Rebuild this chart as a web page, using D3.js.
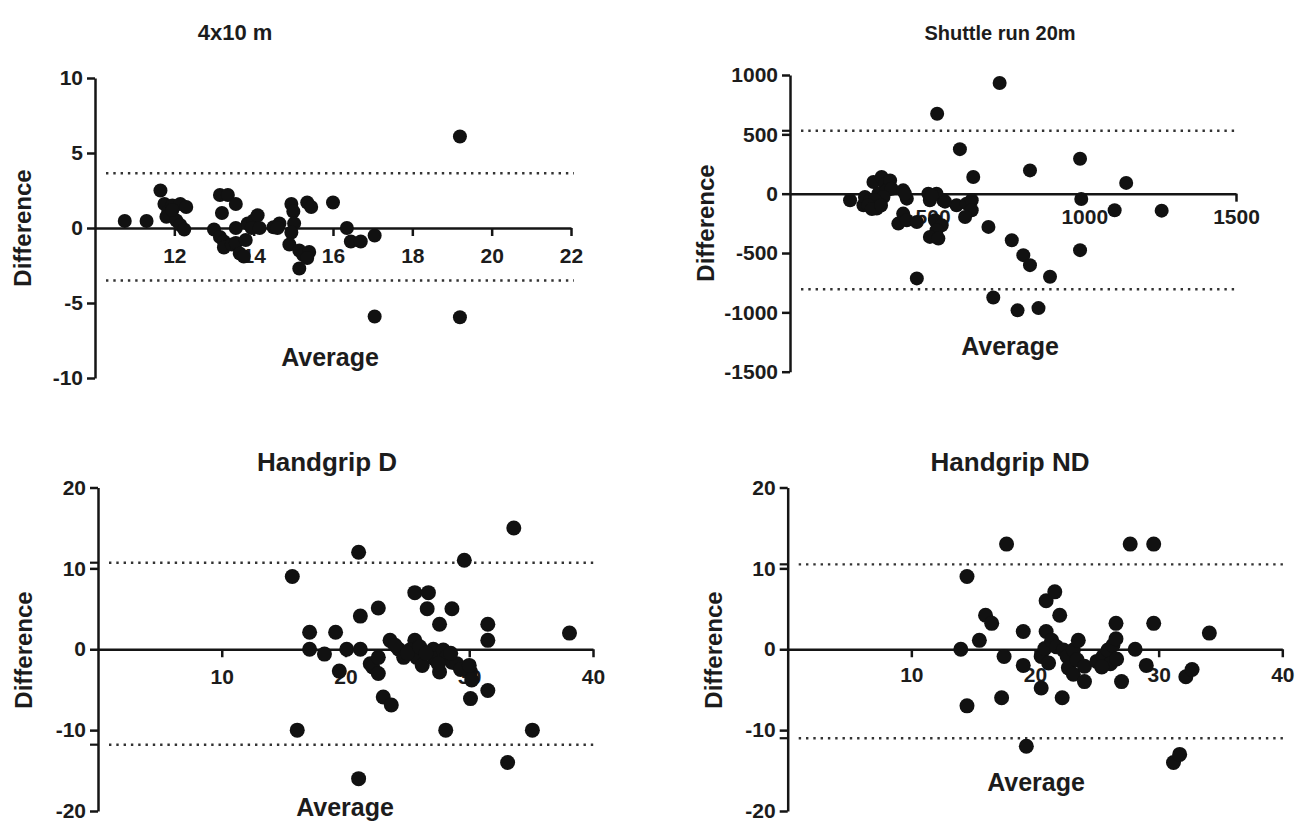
<!DOCTYPE html>
<html>
<head>
<meta charset="utf-8">
<script src="https://cdn.jsdelivr.net/npm/d3@7"></script>
<style>
  body { margin: 0; background: #fff; }
  svg { display: block; }
  text { font-family: "Liberation Sans", Arial, sans-serif; font-weight: bold; fill: #1c1c1c; }
  .axis path, .axis line { stroke: #151515; stroke-width: 2.5; }
  .axis text { font-size: 21px; }
</style>
</head>
<body>
<svg id="chart" width="1298" height="823"></svg>
<script>
// Bland-Altman: [average, difference]
var datos4x10 = [
  [10.75,0.47],[11.3,0.47],[11.65,2.5],[11.75,1.6],[11.85,1.1],[11.95,1.5],[12.15,1.6],[11.8,0.75],
  [12.05,0.5],[12.15,0.2],[12.25,-0.1],[11.95,1.2],[12.3,1.4],
  [13.15,2.2],[13.35,2.2],[13.55,1.6],[13.2,1.0],[13.0,-0.1],[13.15,-0.6],[13.25,-0.9],[13.25,-1.3],
  [13.45,-1.1],[13.55,-1.0],[13.65,-1.7],[13.75,-1.9],[13.55,0],[13.8,-0.8],[13.85,0.3],[14.0,0.5],
  [14.1,0.85],[13.95,0],[14.15,0],[14.5,0.05],[14.65,0.3],[14.6,0],[14.95,1.6],[15.0,1.1],[15.02,0.3],
  [14.95,-0.3],[14.9,-1.1],[15.15,-1.5],[15.25,-1.8],[15.4,-1.6],[15.35,-2.0],[15.15,-2.7],
  [15.35,1.7],[15.45,1.4],[16.0,1.7],[16.35,0],[16.45,-0.9],[16.7,-0.9],[17.05,-0.5],
  [19.2,6.1],[17.05,-5.9],[19.2,-5.95]
];
var datosShuttle = [
  [228,-55],[272,-97],[277,-28],[294,-55],[305,98],[316,-125],[321,0],[332,140],[343,84],[349,28],
  [360,112],[365,42],[338,-28],[310,-55],[288,-97],[403,28],[415,-42],[403,-168],[387,-252],[415,-224],
  [448,-238],[486,0],[513,0],[491,-55],[535,-55],[508,-224],[530,-266],[513,-308],[491,-364],[519,-378],
  [579,-97],[612,-84],[629,-55],[629,-140],[607,-196],[634,140],[684,-280],[761,-392],[799,-518],
  [821,-602],[887,-700],[448,-714],[700,-875],[821,196],[986,294],[986,-476],[721,932],[515,674],
  [590,375],[1138,91],[990,-45],[1100,-140],[1255,-143],[780,-983],[849,-964],[409,0],[541,-67],
  [497,-15],[300,-130],[330,-100]
];
var datosHandD = [
  [17.1,2.1],[19.2,2.1],[17.1,0],[18.3,-0.6],[20.1,0],[21.2,0],[21.2,4.1],[22.65,5.1],[22.0,-1.8],
  [22.2,-2.2],[22.65,-1],[22.65,-3.0],[23.05,-5.9],[23.7,-6.9],[23.6,1.1],[24.3,0],[24.7,-1],[25.6,1.1],
  [25.2,-0.1],[25.75,-1],[26.2,-2],[25.6,7.0],[26.7,7.0],[26.6,5.0],[27.6,3.1],[28.6,5.0],[27.1,0],
  [27.2,-1.2],[27.6,-2.8],[27.9,-0.1],[28.2,-0.9],[28.6,-1.6],[29.0,-1.8],[30.1,-2.8],[30.2,-3.8],
  [30.1,-6.1],[31.5,1.1],[31.5,3.1],[31.5,-5.1],[15.7,9.0],[21.06,12.0],[29.6,11.0],[33.6,15.0],
  [38.1,2.0],[16.1,-10.0],[28.1,-10.0],[35.1,-10.0],[33.1,-14.0],[21.06,-16.0],[19.5,-2.7],
  [24.0,0.5],[25.0,-0.5],[26.0,0.3],[26.5,-0.5],[27.5,-1.8],[28.5,-0.5],[29.3,-2.5],[30.0,-2.0]
];
var datosHandND = [
  [14.0,0],[15.5,1.1],[16.0,4.2],[16.5,3.2],[17.5,-0.9],[19.05,2.2],[19.05,-2.0],[20.9,2.2],[20.9,6.0],
  [21.6,7.1],[22.0,4.2],[20.5,-0.9],[20.8,0.1],[21.35,1.1],[21.1,-1.7],[20.5,-4.8],[21.75,0.3],
  [22.3,-0.1],[22.6,-0.9],[22.7,-2.3],[23.1,-0.1],[23.5,1.1],[23.4,-1.3],[23.1,-3.1],[24.0,-4.0],
  [24.0,-2.1],[25.0,-1.5],[25.5,-0.9],[25.9,-0.1],[26.3,0.5],[26.55,1.3],[26.55,3.2],[26.1,-1.8],
  [26.6,-1.2],[25.4,-2.2],[27.0,-4.0],[28.1,0],[29.0,-2.0],[29.6,3.2],[32.2,-3.4],[32.7,-2.5],
  [34.1,2.0],[27.7,13.0],[29.6,13.0],[17.7,13.0],[14.5,9.0],[22.2,-6.0],[17.3,-6.0],[14.5,-7.0],
  [19.3,-12.0],[31.2,-14.0],[31.7,-13.0]
];

// Limites de concordancia (lineas punteadas)
var limites4x10 = [3.65, -3.5];
var limitesShuttle = [530, -805];
var limitesHandD = [10.7, -11.8];
var limitesHandND = [10.5, -11.0];

// Marcas de eje
var ticksX4x10 = [12, 14, 16, 18, 20, 22];
var ticksY4x10 = [-10, -5, 0, 5, 10];
var ticksXShuttle = [500, 1000, 1500];
var ticksYShuttle = [-1500, -1000, -500, 0, 500, 1000];
var ticksXHand = [10, 20, 30, 40];
var ticksYHand = [-20, -10, 0, 10, 20];

var titulos = ["4x10 m", "Shuttle run 20m", "Handgrip D", "Handgrip ND"];

var svg = d3.select("#chart");

var paneles = [
  { datos: datos4x10, lim: limites4x10, marcaLim: [false, false], tx: ticksX4x10, ty: ticksY4x10,
    dx: [10, 22], rx: [95, 571], dy: [-10, 10], ry: [378, 78], padX: 12,
    titulo: titulos[0], tPos: [235, 40], tSize: 22, avg: [330, 366], dif: [23, 228], r: 7 },
  { datos: datosShuttle, lim: limitesShuttle, marcaLim: [true, false], tx: ticksXShuttle, ty: ticksYShuttle,
    dx: [30, 1500], rx: [790, 1236], dy: [-1500, 1000], ry: [371.7, 75], padX: 7,
    titulo: titulos[1], tPos: [1000, 40], tSize: 20, avg: [1010, 355], dif: [706, 223], r: 7 },
  { datos: datosHandD, lim: limitesHandD, marcaLim: [true, true], tx: ticksXHand, ty: ticksYHand,
    dx: [0, 40], rx: [98, 593], dy: [-20, 20], ry: [811, 487.5], padX: 12,
    titulo: titulos[2], tPos: [327, 471], tSize: 26, avg: [345, 816], dif: [24, 650], r: 7.5 },
  { datos: datosHandND, lim: limitesHandND, marcaLim: [true, true], tx: ticksXHand, ty: ticksYHand,
    dx: [0, 40], rx: [787.7, 1282.3], dy: [-20, 20], ry: [811, 487.5], padX: 10,
    titulo: titulos[3], tPos: [1010, 471], tSize: 26, avg: [1036, 791], dif: [714, 650], r: 7.5 }
];

paneles.forEach(function(p) {
  var x = d3.scaleLinear().domain(p.dx).range(p.rx);
  var y = d3.scaleLinear().domain(p.dy).range(p.ry);
  var g = svg.append("g");

  // Lineas punteadas de los limites
  g.selectAll(".lim")
    .data(p.lim)
    .enter()
    .append("line")
    .attr("x1", p.rx[0] + 11)
    .attr("x2", p.rx[1] + 3)
    .attr("y1", function(d) { return y(d); })
    .attr("y2", function(d) { return y(d); })
    .attr("stroke", "#333")
    .attr("stroke-width", 2.4)
    .attr("stroke-dasharray", "2.4,4.9");

  // Eje X (cruza en 0)
  g.append("g")
    .attr("class", "axis")
    .attr("transform", "translate(0," + y(0) + ")")
    .call(d3.axisBottom(x).tickValues(p.tx).tickSize(8).tickSizeOuter(0).tickPadding(p.padX).tickFormat(d3.format("d")));

  // Eje Y
  var ejeY = g.append("g")
    .attr("class", "axis")
    .attr("transform", "translate(" + p.rx[0] + ",0)")
    .call(d3.axisLeft(y).tickValues(p.ty).tickSize(8).tickSizeOuter(0).tickPadding(4).tickFormat(d3.format("d")));
  ejeY.selectAll(".tick text").text(function(d) { return String(d); });

  // Marcas cortas de los limites sobre el eje Y
  g.selectAll(".marca")
    .data(p.lim.filter(function(d, i) { return p.marcaLim[i]; }))
    .enter()
    .append("line")
    .attr("x1", p.rx[0] - 8)
    .attr("x2", p.rx[0])
    .attr("y1", function(d) { return y(d); })
    .attr("y2", function(d) { return y(d); })
    .attr("stroke", "#151515")
    .attr("stroke-width", 2.2);

  g.selectAll(".domain").attr("fill", "none");
  g.selectAll(".axis text").attr("fill", "#1c1c1c");

  // Puntos
  g.selectAll("circle")
    .data(p.datos)
    .enter()
    .append("circle")
    .attr("cx", function(d) { return x(d[0]); })
    .attr("cy", function(d) { return y(d[1]); })
    .attr("r", p.r)
    .attr("fill", "#111");

  // Textos
  g.append("text")
    .attr("x", p.tPos[0]).attr("y", p.tPos[1])
    .attr("text-anchor", "middle")
    .style("font-size", p.tSize + "px")
    .text(p.titulo);

  g.append("text")
    .attr("x", p.avg[0]).attr("y", p.avg[1])
    .attr("text-anchor", "middle")
    .style("font-size", "25px")
    .text("Average");

  g.append("text")
    .attr("transform", "translate(" + p.dif[0] + "," + p.dif[1] + ") rotate(-90)")
    .attr("text-anchor", "middle")
    .attr("dy", "0.35em")
    .style("font-size", "24px")
    .text("Difference");
});
</script>
</body>
</html>
